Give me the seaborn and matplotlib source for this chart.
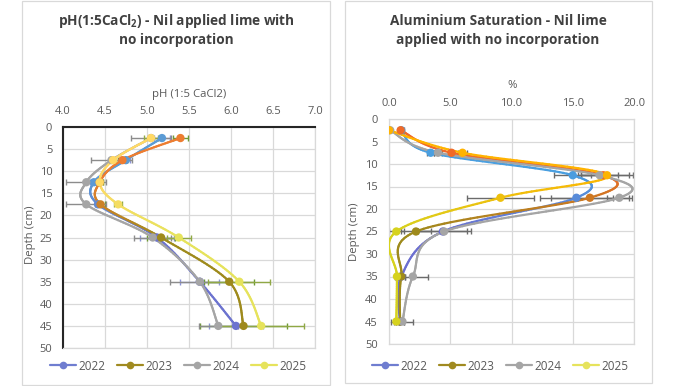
"""Soil pH and aluminium saturation depth profiles, nil lime, no incorporation."""

import numpy as np
import pandas as pd
import seaborn as sns
import matplotlib.pyplot as plt
from matplotlib.collections import LineCollection
from matplotlib.colors import to_rgb, to_hex
from matplotlib.lines import Line2D
from matplotlib.patches import Rectangle

###################################################################################################
###################################################################################################

years = ['2022', '2023', '2024', '2025']
depths = [2.5, 7.5, 12.5, 17.5, 25, 35, 45]

# pH (1:5 CaCl2)
ph_2022 = [5.18, 4.75, 4.37, 4.42, 5.12, 5.63, 6.06]
ph_2023 = [5.40, 4.71, 4.44, 4.45, 5.17, 5.98, 6.15]
ph_2024 = [5.05, 4.58, 4.28, 4.28, 5.07, 5.63, 5.85]
ph_2025 = [5.05, 4.60, 4.44, 4.66, 5.38, 6.10, 6.36]

ph_err_2022 = [0.10, 0.05, 0.04, 0.04, 0.20, 0.23, 0.32]
ph_err_2023 = [0.09, 0.05, 0.04, 0.05, 0.17, 0.30, 0.52]
ph_err_2024 = [0.24, 0.24, 0.24, 0.24, 0.22, 0.36, 0.23]
ph_err_2025 = [0.08, 0.03, 0.04, 0.05, 0.14, 0.37, 0.51]

# Aluminium saturation (%)
al_2022 = [1.0, 3.4, 15.0, 15.3, 4.4, 1.0, 0.9]
al_2023 = [0.95, 5.1, 17.5, 16.4, 2.2, 1.0, 0.9]
al_2024 = [0.1, 4.0, 17.2, 18.8, 4.5, 1.95, 1.1]
al_2025 = [0.0, 6.0, 17.8, 9.1, 0.6, 0.65, 0.6]

al_err_2022 = [0.2, 0.3, 1.5, 3.0, 2.0, 0.3, 0.3]
al_err_2023 = [0.2, 0.3, 2.1, 3.2, 1.2, 0.3, 0.3]
al_err_2024 = [0.1, 0.3, 1.5, 1.0, 2.2, 1.2, 0.9]
al_err_2025 = [0.1, 0.4, 2.1, 2.7, 0.6, 0.2, 0.2]

###################################################################################################
###################################################################################################

# top colour / bottom colour of each series (Excel gradient lines)
ph_cols = [('#5B9BD5', '#6C73CF'), ('#ED7D31', '#9E8A1C'),
           ('#A5A5A5', '#A5A5A5'), ('#FFD966', '#E6E35C')]
al_cols = [('#4A9FE0', '#6C6FD0'), ('#F06A28', '#9E8A1C'),
           ('#A5A5A5', '#A5A5A5'), ('#FFB300', '#D6D21E')]
ph_errcols = ['#8C94D8', '#6F9A35', '#8C8C8C', '#8FA845']
legend_cols = ['#6F7DD0', '#A08A20', '#A5A5A5', '#E6E35C']

W, H = 687, 386


def blend(c_top, c_bot, d):
    f = np.clip((d - 12.0) / 13.0, 0, 1)
    a, b = np.array(to_rgb(c_top)), np.array(to_rgb(c_bot))
    return to_hex(a * (1 - f) + b * f)


def smooth_curve(x, y, sx, sy, n=30):
    """Excel-style smoothed line through the points (in pixel space)."""
    P = np.column_stack([np.asarray(x) * sx, np.asarray(y) * sy])
    pts = []
    t = np.linspace(0, 1, n)[:, None]
    for i in range(len(P) - 1):
        p0, p1, p2 = P[max(i - 1, 0)], P[i], P[i + 1]
        p3 = P[min(i + 2, len(P) - 1)]
        c1 = p1 + (p2 - p0) / 6
        c2 = p2 - (p3 - p1) / 6
        seg = (1 - t)**3 * p1 + 3 * (1 - t)**2 * t * c1 + 3 * (1 - t) * t**2 * c2 + t**3 * p2
        pts.append(seg if i == 0 else seg[1:])
    pts = np.vstack(pts)
    return pts[:, 0] / sx, pts[:, 1] / sy


def plot_profile(ax, series, errs, cols, errcols, sx, sy):
    for vals, err, (ct, cb), ec in zip(series, errs, cols, errcols):
        ax.errorbar(vals, depths, xerr=err, fmt='none', ecolor=ec,
                    elinewidth=1, capsize=2.5, capthick=1, zorder=2)
    for vals, (ct, cb) in zip(series, cols):
        cx, cy = smooth_curve(vals, depths, sx, sy)
        segs = np.stack([np.column_stack([cx[:-1], cy[:-1]]),
                         np.column_stack([cx[1:], cy[1:]])], axis=1)
        mid = (cy[:-1] + cy[1:]) / 2
        lc = LineCollection(segs, colors=[blend(ct, cb, d) for d in mid],
                            linewidths=1.6, zorder=3, capstyle='round')
        ax.add_collection(lc)
        df = pd.DataFrame({'val': vals, 'depth': depths,
                           'col': [blend(ct, cb, d) for d in depths]})
        sns.scatterplot(data=df, x='val', y='depth', hue='col',
                        palette={c: c for c in df.col}, s=36, linewidth=0,
                        legend=False, ax=ax, zorder=4)


def style_axes(ax, xlim, xticks, dark):
    ax.set_xlim(*xlim)
    ax.set_ylim(50, 0)
    ax.set_xticks(xticks)
    ax.set_xticklabels(['%.1f' % v for v in xticks])
    ax.set_yticks(range(0, 51, 5))
    ax.xaxis.tick_top()
    ax.set_xlabel('')
    ax.set_ylabel('')
    ax.grid(True, color='#D9D9D9', linewidth=0.9)
    ax.set_axisbelow(True)
    for side in ['top', 'bottom', 'left', 'right']:
        ax.spines[side].set_color('#D9D9D9')
        ax.spines[side].set_linewidth(0.9)
    if dark:
        for side in ['top', 'left']:
            ax.spines[side].set_color('#262626')
            ax.spines[side].set_linewidth(1.5)
    ax.tick_params(length=0, labelsize=8, labelcolor='#595959')


sns.set_theme(style='white')
plt.rcParams['font.family'] = ['Open Sans', 'DejaVu Sans']
plt.rcParams['mathtext.fontset'] = 'custom'
plt.rcParams['mathtext.rm'] = 'Open Sans'
plt.rcParams['mathtext.bf'] = 'Open Sans:bold'
plt.rcParams['mathtext.default'] = 'bf'

fig = plt.figure(figsize=[W / 100, H / 100], dpi=100)
fig.patch.set_facecolor('white')

# panel frames
fig.add_artist(Rectangle((22 / W, 1 / H), 308 / W, 384 / H, transform=fig.transFigure,
                         fill=False, ec='#D9D9D9', lw=0.9))
fig.add_artist(Rectangle((345 / W, 3 / H), 307 / W, 382 / H, transform=fig.transFigure,
                         fill=False, ec='#D9D9D9', lw=0.9))

# left: pH
ax1 = fig.add_axes([62.7 / W, 1 - 348 / H, 252.3 / W, 221 / H])
plot_profile(ax1, [ph_2022, ph_2023, ph_2024, ph_2025],
             [ph_err_2022, ph_err_2023, ph_err_2024, ph_err_2025],
             ph_cols, ph_errcols, 84.1, 4.42)
style_axes(ax1, (4, 7), np.arange(4, 7.01, 0.5), True)
ax1.tick_params(axis='x', pad=7)
ax1.tick_params(axis='y', pad=7.5)

# right: Al saturation
ax2 = fig.add_axes([389 / W, 1 - 344 / H, 245 / W, 225 / H])
plot_profile(ax2, [al_2022, al_2023, al_2024, al_2025],
             [al_err_2022, al_err_2023, al_err_2024, al_err_2025],
             al_cols, ['#6B6B6B'] * 4, 12.25, 4.5)
style_axes(ax2, (0, 20), np.arange(0, 20.01, 5), False)
ax2.tick_params(axis='x', pad=7)
ax2.tick_params(axis='y', pad=8)

# titles and axis labels
tkw = dict(ha='center', va='center', fontsize=9.8, weight='bold', color='#404040')
fig.text(176 / W, 1 - 21 / H, r'pH(1:5CaCl$_2$) - Nil applied lime with', **tkw)
fig.text(176 / W, 1 - 40 / H, 'no incorporation', **tkw)
fig.text(498 / W, 1 - 21 / H, 'Aluminium Saturation - Nil lime', **tkw)
fig.text(498 / W, 1 - 40 / H, 'applied with no incorporation', **tkw)

lkw = dict(ha='center', va='center', fontsize=8.2, color='#595959')
fig.text(189 / W, 1 - 95 / H, 'pH (1:5 CaCl2)', **lkw)
fig.text(512 / W, 1 - 86 / H, '%', **lkw)
fig.text(31 / W, 1 - 235 / H, 'Depth (cm)', rotation=90, **lkw)
fig.text(355 / W, 1 - 232 / H, 'Depth (cm)', rotation=90, **lkw)

# legends
handles = [Line2D([0], [0], color=c, lw=1.6, marker='o', markersize=5.5,
                  markeredgewidth=0) for c in legend_cols]
for ax, cx in [(ax1, 178), (ax2, 500)]:
    ax.legend(handles, years, loc='center', bbox_to_anchor=(cx / W, 1 - 366 / H),
              bbox_transform=fig.transFigure, ncol=4, frameon=False, fontsize=8.5,
              handlelength=2.2, handletextpad=0.2, columnspacing=1.0,
              labelcolor='#595959')

fig.savefig('out.png', dpi=100)
